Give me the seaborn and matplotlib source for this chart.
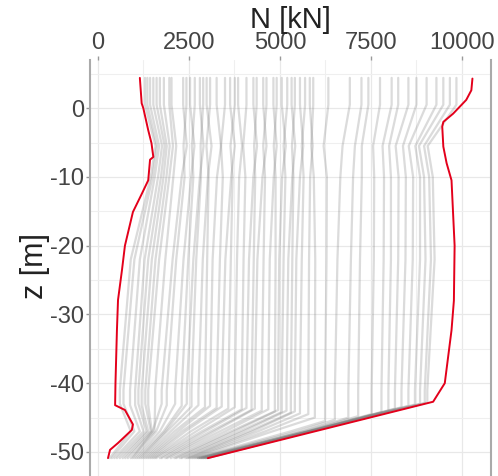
import numpy as np
import pandas as pd
import matplotlib
matplotlib.use("Agg")
import matplotlib.pyplot as plt
import seaborn as sns

# Axial force profiles N(z) for the individual load cases.
# Each profile is described by its values at a few depth stations.
Z_TOP, Z_HOLD, Z_KINK, Z_10, Z_22, Z_DEEP, Z_47, Z_BASE = 4.4, 0.5, -5.5, -10.0, -22.0, -41.0, -47.0, -50.9

n_top = [1290, 1355, 1430, 1520, 1610, 1700, 1810, 1960, 2020,
         2340, 2430, 2530, 2660, 2800, 2890, 2985, 3080, 3260, 3490, 3630, 3760, 3850,
         4080, 4270, 4360, 4540, 4630, 4820, 4910, 5050, 5200, 5320, 5410, 5550, 5690, 5820, 5915,
         6330, 6920, 7240, 7430, 7750, 8070, 8250, 8530,
         8750, 9030, 9300, 9490, 9670, 9850]
n_kink = [1580, 1620, 1680, 1760, 1830, 1890, 1970, 2060, 2150,
          2440, 2350, 2650, 2580, 2900, 2820, 3120, 2980, 3380, 3380, 3760, 3640, 3960,
          3990, 4370, 4290, 4630, 4540, 4910, 4830, 5160, 5100, 5420, 5330, 5640, 5600, 5900, 5860,
          6200, 6720, 7060, 7250, 7560, 7820, 8000, 8180,
          8380, 8540, 8720, 8820, 8960, 9060]
n_z10 = [1450, 1500, 1560, 1650, 1730, 1800, 1880, 1960, 2070,
         2300, 2380, 2560, 2620, 2800, 2830, 3020, 3040, 3270, 3430, 3660, 3700, 3880,
         4050, 4270, 4320, 4520, 4590, 4830, 4880, 5060, 5150, 5340, 5370, 5550, 5650, 5830, 5930,
         6290, 6660, 7010, 7250, 7590, 7860, 8050, 8260,
         8460, 8660, 8850, 8960, 9100, 9200]
n_z22 = [900, 1000, 1150, 1280, 1380, 1480, 1580, 1680, 1850,
         2050, 2150, 2350, 2480, 2620, 2700, 2880, 3000, 3150, 3350, 3500, 3650, 3820,
         4000, 4150, 4280, 4380, 4550, 4720, 4880, 4980, 5100, 5230, 5340, 5450, 5600, 5800, 5970,
         6280, 6580, 6950, 7200, 7580, 7850, 8050, 8250,
         8450, 8650, 8850, 9000, 9150, 9250]
n_deep = [600, 700, 880, 1020, 1110, 1200, 1300, 1380, 1570,
          1750, 1890, 2120, 2300, 2440, 2570, 2760, 2940, 3080, 3260, 3400, 3580, 3760,
          3950, 4080, 4220, 4310, 4500, 4680, 4860, 4950, 5050, 5180, 5300, 5410, 5550, 5780, 5960,
          6240, 6510, 6880, 7150, 7520, 7790, 7980, 8160,
          8340, 8530, 8710, 8850, 8980, 9050]
z_knee = [-43.0, -43.0, -43.2, -43.2, -43.0, -43.3, -43.0, -43.2, -43.0,
          -43.0, -43.2, -43.0, -43.3, -43.0, -43.4, -43.2, -43.5, -43.3, -43.6, -43.4, -43.7, -43.5,
          -43.8, -43.6, -43.9, -43.7, -44.0, -43.8, -44.1, -43.9, -44.2, -44.0, -44.3, -44.1, -44.4, -44.5, -45.0,
          -45.5, -45.3, -45.0, -44.8, -44.5, -44.2, -44.0, -43.7,
          -43.5, -43.3, -43.1, -43.0, -42.9, -42.8]
n_z47 = [900, 1000, 1150, 1250, 1330, 1380, 1450, 1480, 1550,
         1500, 1600, 1700, 1800, 1850, 1900, 2000, 2100, 2200, 2300, 2400, 2550, 2700,
         2850, 2950, 3100, 3200, 3350, 3500, 3650, 3750, 3900, 4000, 4150, 4250, 4400, 4600, 4800,
         5300, 5500, 5650, 5700, 5750, 5780, 5800, 5800,
         5820, 5830, 5840, 5850, 5850, 5860]
n_base = [320, 380, 450, 520, 600, 680, 750, 820, 900,
          950, 1000, 1050, 1100, 1150, 1200, 1250, 1300, 1350, 1400, 1450, 1500, 1550,
          1600, 1700, 1750, 1850, 1900, 2000, 2100, 2150, 2250, 2300, 2400, 2450, 2500, 2550, 2600,
          2650, 2700, 2750, 2750, 2800, 2800, 2850, 2850,
          2900, 2900, 2950, 2950, 3000, 3000]

# Envelopes (min / max) over all load cases
env_min_n = [1150, 1200, 1245, 1380, 1470, 1520, 1430, 1380, 1200, 960, 740, 660, 550, 520, 480, 470, 740, 960, 930, 550, 330, 275]
env_min_z = [4.4, 0.7, 0.0, -3.2, -5.1, -7.1, -7.5, -10.5, -12.5, -15.1, -20.0, -23.5, -27.9, -32.3, -40.0, -43.2, -43.9, -46.0, -46.8, -48.7, -49.7, -50.9]
env_max_n = [10290, 10260, 10120, 9760, 9490, 9460, 9490, 9580, 9715, 9800, 9780, 9715, 9530, 9210, 3020]
env_max_z = [4.3, 2.6, 1.2, -0.8, -2.0, -2.7, -5.6, -8.0, -10.5, -20.0, -28.0, -32.3, -40.0, -42.7, -50.9]

x_ticks = [0, 2500, 5000, 7500, 10000]
y_ticks = [0, -10, -20, -30, -40, -50]

# Long-form table: one row per station of each profile
rows = []
for i in range(len(n_top)):
    stations = [
        (n_top[i], Z_TOP), (n_top[i], Z_HOLD), (n_kink[i], Z_KINK), (n_z10[i], Z_10),
        (n_z22[i], Z_22), (n_deep[i], Z_DEEP), (n_deep[i], z_knee[i]),
        (n_z47[i], Z_47), (n_base[i], Z_BASE),
    ]
    for k, (n, z) in enumerate(stations):
        rows.append({"case": i, "step": k, "N": n, "z": z})
profiles = pd.DataFrame(rows)
env = pd.concat([
    pd.DataFrame({"kind": "min", "N": env_min_n, "z": env_min_z}),
    pd.DataFrame({"kind": "max", "N": env_max_n, "z": env_max_z}),
])

sns.set_theme(style="white")
plt.rcParams["font.family"] = ["Liberation Sans", "DejaVu Sans"]

fig = plt.figure(figsize=(4.98, 4.76), dpi=100)
ax = fig.add_axes([90 / 498, 0.0, 401 / 498, 416 / 476])

sns.lineplot(data=profiles, x="N", y="z", units="case", estimator=None, sort=False,
             color="#7f7f7f", alpha=0.28, linewidth=1.6, ax=ax, legend=False)
sns.lineplot(data=env, x="N", y="z", units="kind", estimator=None, sort=False,
             color="#e3001b", linewidth=1.4, ax=ax, legend=False)

ax.set_xlim(-220, 10800)
ax.set_ylim(-53.5, 7.0)
ax.set_xticks(x_ticks)
ax.set_xticklabels([str(t) for t in x_ticks])
ax.set_yticks(y_ticks)
ax.set_yticklabels([str(t) for t in y_ticks])
ax.set_xticks([1250, 3750, 6250, 8750], minor=True)
ax.set_yticks([5, -5, -15, -25, -35, -45], minor=True)

ax.xaxis.tick_top()
ax.tick_params(axis="both", which="major", labelsize=17, labelcolor="#444444",
               color="#999999", length=3, width=1, pad=1.5)
ax.tick_params(axis="x", which="major", top=True, bottom=False)
ax.tick_params(axis="y", which="major", left=True)
ax.tick_params(which="minor", length=0)

ax.grid(True, which="major", color="#e8e8e8", linewidth=0.9)
ax.grid(True, which="minor", color="#efefef", linewidth=0.8)
ax.set_axisbelow(True)

for side in ["top", "bottom"]:
    ax.spines[side].set_visible(False)
for side in ["left", "right"]:
    ax.spines[side].set_visible(True)
    ax.spines[side].set_color("#aaaaaa")
    ax.spines[side].set_linewidth(1.5)

ax.set_xlabel("")
ax.set_ylabel("")
fig.text(290 / 498, 1 - 28 / 476, "N [kN]", ha="center", va="baseline", fontsize=21, color="#222222")
fig.text(35 / 498, 1 - 266 / 476, "z [m]", ha="center", va="center", rotation=90, fontsize=22, color="#222222")

fig.savefig("out.png", dpi=100)
